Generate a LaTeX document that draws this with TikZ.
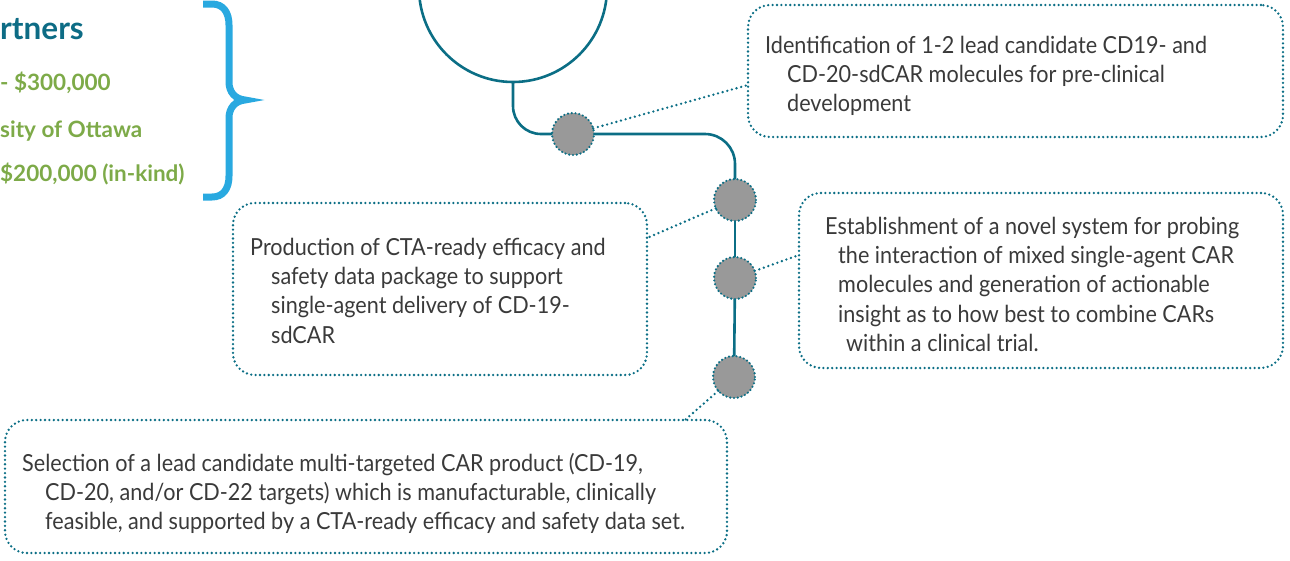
\documentclass[tikz,border=0pt]{standalone}
\usepackage{fontspec}
\setmainfont{Lato}[FakeStretch=0.92]
\newfontfamily\headfont{Lato}
\usetikzlibrary{calc}
\definecolor{teal}{HTML}{0B6E85}
\definecolor{headteal}{HTML}{0D6C85}
\definecolor{leafgreen}{HTML}{7DAA48}
\definecolor{bracecol}{HTML}{29A9E0}
\definecolor{dotgray}{HTML}{999999}
\definecolor{txt}{HTML}{3A3A3A}
\tikzset{
  dotbox/.style={draw=teal, line width=2.6pt, dash pattern=on 0pt off 4.4pt, line cap=round, rounded corners=22pt, inner sep=0pt, outer sep=0pt},
  dotline/.style={draw=teal, line width=2.6pt, dash pattern=on 0pt off 4.8pt, line cap=round},
  milestone/.style={circle, fill=dotgray, draw=teal, line width=2.4pt, dash pattern=on 0pt off 3.8pt, line cap=round, minimum size=42pt, inner sep=0pt, outer sep=0pt},
  trunk/.style={draw=teal, line width=2.6pt},
  bodytext/.style={anchor=base west, align=left, inner sep=0pt, text=txt, font=\fontsize{23.5}{29.4}\selectfont},
  headtext/.style={anchor=base west, inner sep=0pt, text=headteal, font=\headfont\bfseries\fontsize{31.5}{36}\selectfont},
  greentext/.style={anchor=base west, inner sep=0pt, text=leafgreen, font=\headfont\bfseries\fontsize{22.5}{26}\selectfont}
}
\begin{document}
\begin{tikzpicture}[x=1pt, y=-1pt]
\useasboundingbox (0,0) rectangle (1290,560);

% left partner text (cut at the edge)
\node[headtext] (ptitle) at (0,39) {rtners};
\node[greentext] (p1) at (0,90) {- \$300,000};
\node[greentext] (p2) at (0,137) {sity of Ottawa};
\node[greentext] (p3) at (0,181) {\$200,000 (in-kind)};

% brace
\draw[bracecol, line width=7pt] (203,4) -- (212,4) .. controls (223,4) and (229,12) .. (229,25) -- (229,82) .. controls (229,92) and (235,99) .. (245,100) .. controls (235,101) and (229,108) .. (229,118) -- (229,176) .. controls (229,189) and (223,197) .. (212,197) -- (203,197);

% big circle
\node[circle, draw=teal, line width=2.6pt, minimum size=188pt, inner sep=0pt, outer sep=0pt] (bigc) at (513,-12) {};

% milestones
\node[milestone] (n1) at (573,134) {};
\node[milestone] (n2) at (735,200) {};
\node[milestone] (n3) at (735,278) {};
\node[milestone] (n4) at (734,377) {};

% trunk
\draw[trunk, rounded corners=28pt] (bigc.south) |- (n1.west);
\draw[trunk, rounded corners=30pt] (n1.east) -| (n2.north);
\draw[trunk] (n2) -- (n3);
\draw[trunk] (n3) -- (n4);

% boxes
\node[dotbox, minimum width=535pt, minimum height=132pt] (boxA) at (1015.5,71) {};
\node[dotbox, minimum width=414pt, minimum height=172pt] (boxB) at (440,289) {};
\node[dotbox, minimum width=484pt, minimum height=175pt] (boxC) at (1041,280.5) {};
\node[dotbox, minimum width=722pt, minimum height=133pt] (boxD) at (366,486.5) {};

% texts (anchor = baseline of the last line)
\node[bodytext] (tA) at (765,111.8) {Identification of 1-2 lead candidate CD19- and\\\hspace*{22pt}CD-20-sdCAR molecules for pre-clinical\\\hspace*{22pt}development};
\node[bodytext] (tB) at (250,343.2) {Production of CTA-ready efficacy and\\\hspace*{21pt}safety data package to support\\\hspace*{21pt}single-agent delivery of CD-19-\\\hspace*{21pt}sdCAR};
\node[bodytext] (tC) at (825,351.6) {Establishment of a novel system for probing\\\hspace*{13pt}the interaction of mixed single-agent CAR\\\hspace*{13pt}molecules and generation of actionable\\\hspace*{13pt}insight as to how best to combine CARs\\\hspace*{21pt}within a clinical trial.};
\node[bodytext] (tD) at (22,529.8) {Selection of a lead candidate multi-targeted CAR product (CD-19,\\\hspace*{23pt}CD-20, and/or CD-22 targets) which is manufacturable, clinically\\\hspace*{23pt}feasible, and supported by a CTA-ready efficacy and safety data set.};

% dotted connectors
\draw[dotline] (n1) -- ($(boxA.west)+(0,14)$);
\draw[dotline] (n2) -- ($(boxB.east)+(0,-51)$);
\draw[dotline] (n3) -- ($(boxC.west)+(0,-25.5)$);
\draw[dotline] (n4) -- ($(boxD.north)+(319,0)$);
\end{tikzpicture}
\end{document}
